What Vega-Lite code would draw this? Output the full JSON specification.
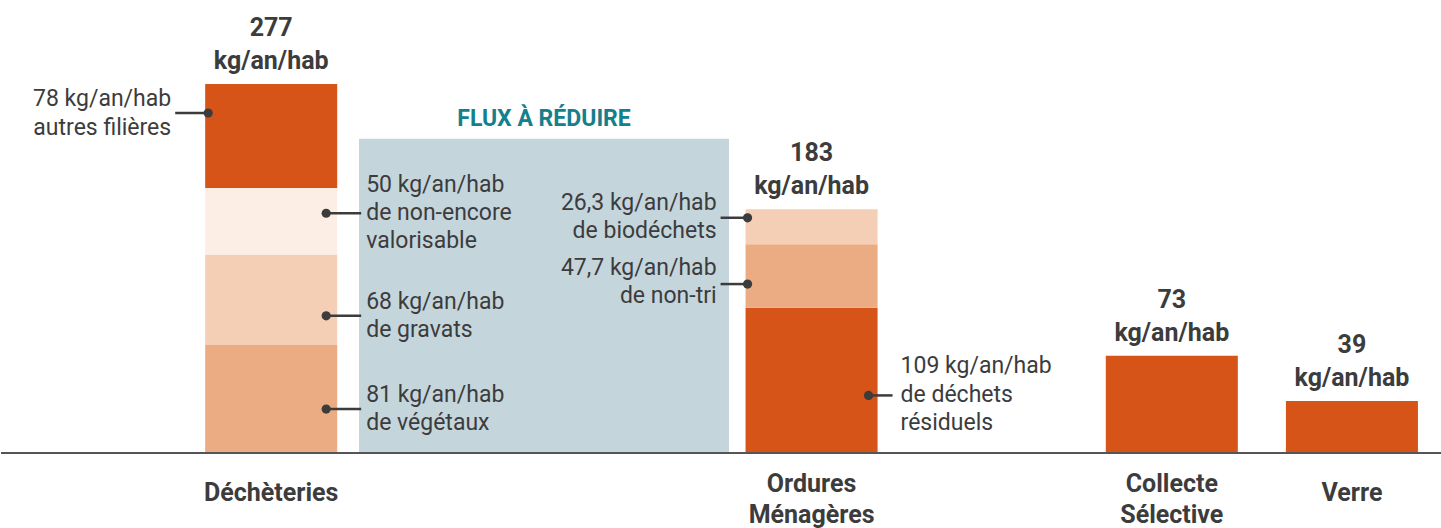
{
  "$schema": "https://vega.github.io/schema/vega-lite/v6.json",
  "width": 1441,
  "height": 528,
  "padding": 0,
  "background": "white",
  "config": {"view": {"stroke": null}, "font": "Roboto"},
  "data": {
    "values": [
      {"cat": "Déchèteries", "seg": "végétaux", "value": 81, "label": "81 kg/an/hab\nde végétaux"},
      {"cat": "Déchèteries", "seg": "gravats", "value": 68, "label": "68 kg/an/hab\nde gravats"},
      {"cat": "Déchèteries", "seg": "non-encore valorisable", "value": 50, "label": "50 kg/an/hab\nde non-encore\nvalorisable"},
      {"cat": "Déchèteries", "seg": "autres filières", "value": 78, "label": "78 kg/an/hab\nautres filières"},
      {"cat": "Ordures Ménagères", "seg": "déchets résiduels", "value": 109, "label": "109 kg/an/hab\nde déchets\nrésiduels"},
      {"cat": "Ordures Ménagères", "seg": "non-tri", "value": 47.7, "label": "47,7 kg/an/hab\nde non-tri"},
      {"cat": "Ordures Ménagères", "seg": "biodéchets", "value": 26.3, "label": "26,3 kg/an/hab\nde biodéchets"},
      {"cat": "Collecte Sélective", "seg": "collecte sélective", "value": 73, "label": ""},
      {"cat": "Verre", "seg": "verre", "value": 39, "label": ""}
    ]
  },
  "transform": [
    {"window": [{"op": "row_number", "as": "idx"}]},
    {"stack": "value", "groupby": ["cat"], "sort": [{"field": "idx"}], "as": ["v0", "v1"]},
    {"calculate": "(datum.v0 + datum.v1) / 2", "as": "mid"}
  ],
  "layer": [
    {
      "data": {"values": [{"zone": "FLUX À RÉDUIRE"}]},
      "mark": {"type": "bar", "color": "#C5D5DC", "width": {"band": 2.054}, "xOffset": 92.7},
      "encoding": {
        "x": {"datum": "_b", "type": "nominal", "axis": null,
          "scale": {"type": "band", "domain": ["_a", "Déchèteries", "_b", "_c", "Ordures Ménagères", "_d", "Collecte Sélective", "Verre"], "paddingInner": 0, "paddingOuter": 0}},
        "y": {"datum": 0, "type": "quantitative", "axis": null, "scale": {"domain": [-56.3, 340.1], "nice": false, "zero": false}},
        "y2": {"datum": 236}
      }
    },
    {
      "mark": {"type": "bar", "width": {"band": 0.733}},
      "encoding": {
        "x": {"field": "cat", "type": "nominal", "axis": null},
        "y": {"field": "v1", "type": "quantitative", "axis": null},
        "y2": {"field": "v0"},
        "color": {
          "field": "seg", "type": "nominal", "legend": null,
          "scale": {
            "domain": ["végétaux", "gravats", "non-encore valorisable", "autres filières", "déchets résiduels", "non-tri", "biodéchets", "collecte sélective", "verre"],
            "range": ["#ECAC83", "#F5CFB5", "#FCEEE5", "#D65418", "#D65418", "#ECAC83", "#F5CFB5", "#D65418", "#D65418"]
          }
        }
      }
    },
    {
      "data": {"values": [{}]},
      "mark": {"type": "rule", "color": "#555555", "strokeWidth": 2, "xOffset": 9},
      "encoding": {"y": {"datum": 0, "type": "quantitative", "axis": null}}
    },
    {
      "transform": [{"aggregate": [{"op": "count", "as": "n"}], "groupby": ["cat"]}, {"filter": "indexof(datum.cat, ' ') < 0"}],
      "mark": {"type": "text", "font": "Roboto", "fontWeight": "bold", "fontSize": 25, "color": "#3c3c3c", "baseline": "middle", "align": "center", "dy": 40},
      "encoding": {
        "x": {"field": "cat", "type": "nominal", "axis": null},
        "y": {"datum": 0, "type": "quantitative", "axis": null},
        "text": {"field": "cat", "type": "nominal"}
      }
    },
    {
      "transform": [{"aggregate": [{"op": "count", "as": "n"}], "groupby": ["cat"]}, {"filter": "indexof(datum.cat, ' ') >= 0"}],
      "mark": {"type": "text", "font": "Roboto", "fontWeight": "bold", "fontSize": 25, "color": "#3c3c3c", "baseline": "middle", "align": "center", "dy": 31, "lineBreak": " ", "lineHeight": 31},
      "encoding": {
        "x": {"field": "cat", "type": "nominal", "axis": null},
        "y": {"datum": 0, "type": "quantitative", "axis": null},
        "text": {"field": "cat", "type": "nominal"}
      }
    },
    {
      "mark": {"type": "text", "font": "Roboto", "fontWeight": "bold", "fontSize": 25, "color": "#3c3c3c", "baseline": "middle", "dy": -56},
      "encoding": {
        "x": {"field": "cat", "type": "nominal", "axis": null},
        "y": {"aggregate": "sum", "field": "value", "type": "quantitative", "axis": null},
        "text": {"aggregate": "sum", "field": "value", "type": "quantitative", "format": ".0f"}
      }
    },
    {
      "mark": {"type": "text", "font": "Roboto", "fontWeight": "bold", "fontSize": 25, "color": "#3c3c3c", "baseline": "middle", "dy": -23, "text": "kg/an/hab"},
      "encoding": {
        "x": {"field": "cat", "type": "nominal", "axis": null},
        "y": {"aggregate": "sum", "field": "value", "type": "quantitative", "axis": null}
      }
    },
    {
      "transform": [{"filter": "datum.seg === 'autres filières'"}],
      "encoding": {
        "x": {"field": "cat", "type": "nominal", "axis": null},
        "y": {"field": "mid", "type": "quantitative", "axis": null}
      },
      "layer": [
        {"mark": {"type": "rule", "color": "#3c3c3c", "strokeWidth": 2.5, "xOffset": -96, "x2Offset": -63, "yOffset": -23}, "encoding": {"x2": {"field": "cat"}}},
        {"mark": {"type": "point", "filled": true, "opacity": 1, "color": "#3c3c3c", "size": 85, "xOffset": -63, "yOffset": -23}},
        {"mark": {"type": "text", "font": "Roboto", "fontSize": 23, "color": "#3c3c3c", "align": "right", "baseline": "middle", "dx": -100, "dy": -37, "lineBreak": "\n", "lineHeight": 29}, "encoding": {"text": {"field": "label", "type": "nominal"}}}
      ]
    },
    {
      "transform": [{"filter": "datum.seg === 'non-encore valorisable'"}],
      "encoding": {
        "x": {"field": "cat", "type": "nominal", "axis": null},
        "y": {"field": "mid", "type": "quantitative", "axis": null}
      },
      "layer": [
        {"mark": {"type": "rule", "color": "#3c3c3c", "strokeWidth": 2.5, "xOffset": 55, "x2Offset": 90, "yOffset": -8}, "encoding": {"x2": {"field": "cat"}}},
        {"mark": {"type": "point", "filled": true, "opacity": 1, "color": "#3c3c3c", "size": 85, "xOffset": 55, "yOffset": -8}},
        {"mark": {"type": "text", "font": "Roboto", "fontSize": 23, "color": "#3c3c3c", "align": "left", "baseline": "middle", "dx": 95, "dy": -36, "lineBreak": "\n", "lineHeight": 28}, "encoding": {"text": {"field": "label", "type": "nominal"}}}
      ]
    },
    {
      "transform": [{"filter": "datum.seg === 'gravats'"}],
      "encoding": {
        "x": {"field": "cat", "type": "nominal", "axis": null},
        "y": {"field": "mid", "type": "quantitative", "axis": null}
      },
      "layer": [
        {"mark": {"type": "rule", "color": "#3c3c3c", "strokeWidth": 2.5, "xOffset": 55, "x2Offset": 90, "yOffset": 16}, "encoding": {"x2": {"field": "cat"}}},
        {"mark": {"type": "point", "filled": true, "opacity": 1, "color": "#3c3c3c", "size": 85, "xOffset": 55, "yOffset": 16}},
        {"mark": {"type": "text", "font": "Roboto", "fontSize": 23, "color": "#3c3c3c", "align": "left", "baseline": "middle", "dx": 95, "dy": 2, "lineBreak": "\n", "lineHeight": 28}, "encoding": {"text": {"field": "label", "type": "nominal"}}}
      ]
    },
    {
      "transform": [{"filter": "datum.seg === 'végétaux'"}],
      "encoding": {
        "x": {"field": "cat", "type": "nominal", "axis": null},
        "y": {"field": "mid", "type": "quantitative", "axis": null}
      },
      "layer": [
        {"mark": {"type": "rule", "color": "#3c3c3c", "strokeWidth": 2.5, "xOffset": 55, "x2Offset": 90, "yOffset": 10}, "encoding": {"x2": {"field": "cat"}}},
        {"mark": {"type": "point", "filled": true, "opacity": 1, "color": "#3c3c3c", "size": 85, "xOffset": 55, "yOffset": 10}},
        {"mark": {"type": "text", "font": "Roboto", "fontSize": 23, "color": "#3c3c3c", "align": "left", "baseline": "middle", "dx": 95, "dy": -4, "lineBreak": "\n", "lineHeight": 28}, "encoding": {"text": {"field": "label", "type": "nominal"}}}
      ]
    },
    {
      "transform": [{"filter": "datum.seg === 'biodéchets'"}],
      "encoding": {
        "x": {"field": "cat", "type": "nominal", "axis": null},
        "y": {"field": "mid", "type": "quantitative", "axis": null}
      },
      "layer": [
        {"mark": {"type": "rule", "color": "#3c3c3c", "strokeWidth": 2.5, "xOffset": -91, "x2Offset": -64, "yOffset": -9}, "encoding": {"x2": {"field": "cat"}}},
        {"mark": {"type": "point", "filled": true, "opacity": 1, "color": "#3c3c3c", "size": 85, "xOffset": -64, "yOffset": -9}},
        {"mark": {"type": "text", "font": "Roboto", "fontSize": 23, "color": "#3c3c3c", "align": "right", "baseline": "middle", "dx": -95, "dy": -24, "lineBreak": "\n", "lineHeight": 28}, "encoding": {"text": {"field": "label", "type": "nominal"}}}
      ]
    },
    {
      "transform": [{"filter": "datum.seg === 'non-tri'"}],
      "encoding": {
        "x": {"field": "cat", "type": "nominal", "axis": null},
        "y": {"field": "mid", "type": "quantitative", "axis": null}
      },
      "layer": [
        {"mark": {"type": "rule", "color": "#3c3c3c", "strokeWidth": 2.5, "xOffset": -91, "x2Offset": -64, "yOffset": 8}, "encoding": {"x2": {"field": "cat"}}},
        {"mark": {"type": "point", "filled": true, "opacity": 1, "color": "#3c3c3c", "size": 85, "xOffset": -64, "yOffset": 8}},
        {"mark": {"type": "text", "font": "Roboto", "fontSize": 23, "color": "#3c3c3c", "align": "right", "baseline": "middle", "dx": -95, "dy": -8, "lineBreak": "\n", "lineHeight": 28}, "encoding": {"text": {"field": "label", "type": "nominal"}}}
      ]
    },
    {
      "transform": [{"filter": "datum.seg === 'déchets résiduels'"}],
      "encoding": {
        "x": {"field": "cat", "type": "nominal", "axis": null},
        "y": {"field": "mid", "type": "quantitative", "axis": null}
      },
      "layer": [
        {"mark": {"type": "rule", "color": "#3c3c3c", "strokeWidth": 2.5, "xOffset": 57, "x2Offset": 81, "yOffset": 15}, "encoding": {"x2": {"field": "cat"}}},
        {"mark": {"type": "point", "filled": true, "opacity": 1, "color": "#3c3c3c", "size": 85, "xOffset": 57, "yOffset": 15}},
        {"mark": {"type": "text", "font": "Roboto", "fontSize": 23, "color": "#3c3c3c", "align": "left", "baseline": "middle", "dx": 89, "dy": -14, "lineBreak": "\n", "lineHeight": 28.5}, "encoding": {"text": {"field": "label", "type": "nominal"}}}
      ]
    },
    {
      "data": {"values": [{"zone": "FLUX À RÉDUIRE"}]},
      "mark": {"type": "text", "font": "Roboto", "fontWeight": "bold", "fontSize": 23, "color": "#13808C", "baseline": "middle", "align": "center", "xOffset": 92.7, "dy": -20},
      "encoding": {
        "x": {"datum": "_b", "type": "nominal", "axis": null},
        "y": {"datum": 236, "type": "quantitative", "axis": null},
        "text": {"field": "zone", "type": "nominal"}
      }
    }
  ]
}
